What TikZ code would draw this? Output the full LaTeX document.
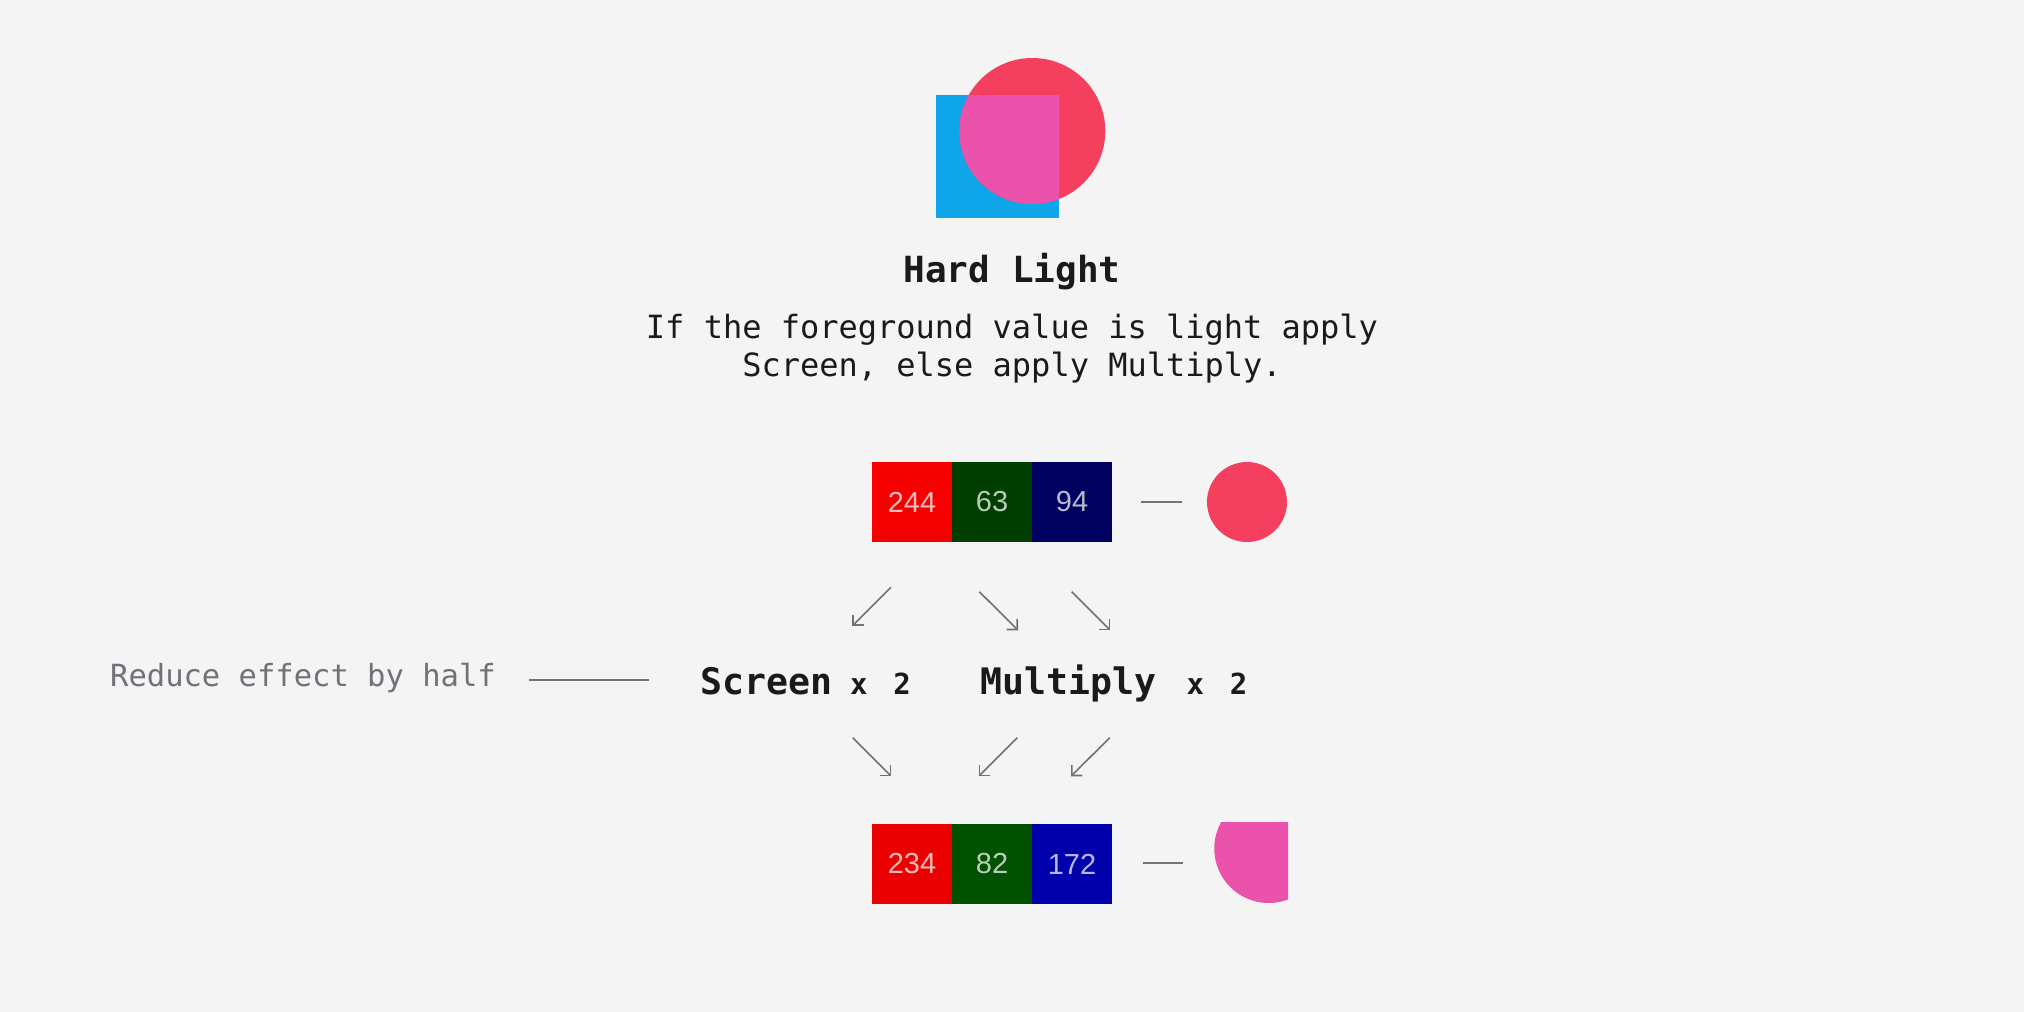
\documentclass[tikz,border=0pt]{standalone}
\usepackage{fontspec}
\setmainfont{Liberation Sans}
\newfontfamily\monofont{DejaVu Sans Mono}
\usetikzlibrary{arrows.meta}
\definecolor{bg}{HTML}{F4F4F4}
\definecolor{skyblue}{RGB}{14,165,233}
\definecolor{rose}{RGB}{244,63,94}
\definecolor{blendpink}{RGB}{234,82,172}
\definecolor{ink}{HTML}{1A1A1A}
\definecolor{muted}{HTML}{71717A}
\definecolor{chR}{RGB}{244,0,0}
\definecolor{chG}{RGB}{0,63,0}
\definecolor{chB}{RGB}{0,0,94}
\definecolor{outR}{RGB}{234,0,0}
\definecolor{outG}{RGB}{0,82,0}
\definecolor{outB}{RGB}{0,0,172}
\tikzset{
  chan/.style={rectangle, minimum width=80pt, minimum height=80pt, inner sep=0pt, outer sep=0pt,
    text=white, text opacity=.72, font=\fontsize{29}{31}\selectfont},
  conn/.style={draw=muted, line width=1.6pt},
  arr/.style={conn, -{Straight Barb[length=7.5pt,width=15pt]}},
  titletext/.style={anchor=base, text=ink, font=\monofont\bfseries\fontsize{36}{40}\selectfont, inner sep=0pt},
  bodytext/.style={anchor=base, text=ink, font=\monofont\fontsize{32}{36}\selectfont, inner sep=0pt},
  optext/.style={anchor=base, text=ink, font=\monofont\bfseries\fontsize{36.5}{40}\selectfont, inner sep=0pt},
  multtext/.style={anchor=base, text=ink, font=\monofont\bfseries\fontsize{29}{32}\selectfont, inner sep=0pt},
  notetext/.style={anchor=base, text=muted, font=\monofont\fontsize{30.5}{34}\selectfont, inner sep=0pt},
}
\begin{document}
\begin{tikzpicture}[x=1pt,y=-1pt]
\fill[bg] (0,0) rectangle (2024,1012);
\useasboundingbox (0,0) rectangle (2024,1012);

% top illustration
\fill[skyblue] (936,95) rectangle (1059,218);
\fill[rose] (1032.3,131) circle[radius=73];
\begin{scope}
  \clip (1032.3,131) circle[radius=73];
  \fill[blendpink] (936,95) rectangle (1059,218);
\end{scope}

% texts
\node[titletext] (title) at (1012,282.5) {Hard Light};
\node[bodytext] (body1) at (1012,338.3) {If the foreground value is light apply};
\node[bodytext] (body2) at (1012,376) {Screen, else apply Multiply.};

% top channels
\node[chan, fill=chR] (a1) at (912,502) {244};
\node[chan, fill=chG] (a2) at (992,502) {63};
\node[chan, fill=chB] (a3) at (1072,502) {94};
\node[circle, fill=rose, minimum size=80pt, inner sep=0pt, outer sep=0pt] (fg) at (1247,502) {};
\draw[conn] ([xshift=29pt]a3.east) -- ([xshift=-25pt]fg.west);

% middle row
\node[optext] (scr) at (766.7,694) {Screen};
\node[multtext] (scrx) at (880.4,694) {x\ \kern8.4pt 2};
\node[optext] (mul) at (1068.3,694) {Multiply};
\node[multtext] (mulx) at (1217,694) {x\ \kern8.4pt 2};
\node[notetext] (note) at (303,686.7) {Reduce effect by half};
\coordinate (n1) at (528.6,680);
\coordinate (n2) at (648.6,680);
\draw[conn] (n1) -- (n2);

% arrows
\coordinate (t1s) at (891,587.3);   \coordinate (t1e) at (852.3,626);
\coordinate (t2s) at (979.3,591.7); \coordinate (t2e) at (1018,630.3);
\coordinate (t3s) at (1071.7,591.7);\coordinate (t3e) at (1110.3,630.3);
\coordinate (b1s) at (852.7,737.7); \coordinate (b1e) at (891.3,776.3);
\coordinate (b2s) at (1017.3,737.7);\coordinate (b2e) at (978.7,776.3);
\coordinate (b3s) at (1109.7,737.7);\coordinate (b3e) at (1071,776.3);
\draw[arr] (t1s) -- (t1e);
\draw[arr] (t2s) -- (t2e);
\draw[arr] (t3s) -- (t3e);
\draw[arr] (b1s) -- (b1e);
\draw[arr] (b2s) -- (b2e);
\draw[arr] (b3s) -- (b3e);

% bottom channels
\node[chan, fill=outR] (c1) at (912,864) {234};
\node[chan, fill=outG] (c2) at (992,864) {82};
\node[chan, fill=outB] (c3) at (1072,864) {172};
\begin{scope}
  \clip (1200,822) rectangle (1288,915);
  \fill[blendpink] (1268.75,848.5) circle[radius=54.5];
\end{scope}
\coordinate (res) at (1214,862.7);
\draw[conn] ([xshift=30.7pt]c3.east |- res) -- ([xshift=-31pt]res);
\end{tikzpicture}
\end{document}
